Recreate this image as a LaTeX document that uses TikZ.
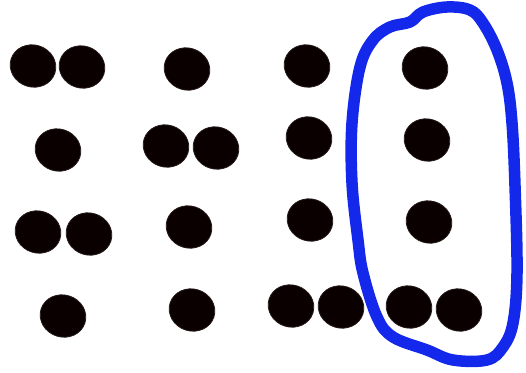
\documentclass[tikz,border=0pt]{standalone}
\usetikzlibrary{shapes.geometric}
\definecolor{dotc}{RGB}{10,0,0}
\definecolor{loopblue}{RGB}{20,40,235}
\tikzset{
  dot/.style={shape=ellipse, fill=dotc, draw=dotc!90!white, line width=0.8pt, inner sep=0pt,
    minimum width=46pt, minimum height=42pt, rotate=-18},
  loopline/.style={draw=loopblue, line width=11.5pt, line join=round, line cap=round}
}
\begin{document}
\begin{tikzpicture}[x=1pt,y=-1pt]
\useasboundingbox (0,0) rectangle (526,372);
% row 1
\node[dot] (r1a) at (33,66) {};
\node[dot] (r1b) at (82,67) {};
\node[dot] (r1c) at (187,69) {};
\node[dot] (r1d) at (307,66) {};
\node[dot] (r1e) at (425,68) {};
% row 2
\node[dot] (r2a) at (58,150) {};
\node[dot] (r2b) at (166,146) {};
\node[dot] (r2c) at (216,148) {};
\node[dot] (r2d) at (309,138) {};
\node[dot] (r2e) at (427,140) {};
% row 3
\node[dot] (r3a) at (38,232) {};
\node[dot] (r3b) at (89,234) {};
\node[dot] (r3c) at (189,227) {};
\node[dot] (r3d) at (310,220) {};
\node[dot] (r3e) at (429,222) {};
% row 4
\node[dot] (r4a) at (63,316) {};
\node[dot] (r4b) at (192,310) {};
\node[dot] (r4c) at (291,306) {};
\node[dot] (r4d) at (341,307) {};
\node[dot] (r4e) at (409,307) {};
\node[dot] (r4f) at (459,310) {};
% hand-drawn loop
\draw[loopline] plot[smooth cycle, tension=0.6] coordinates {
 (352,183) (352,123) (360,67) (373,40) (390,27) (410,22) (423,12) (447,7) (470,10)
 (483,23) (497,50) (507,83) (512,123) (515,186) (517,273) (513,323) (503,347)
 (487,360) (453,360) (427,350) (393,337) (377,317) (363,273) (358,240)};
\end{tikzpicture}
\end{document}
